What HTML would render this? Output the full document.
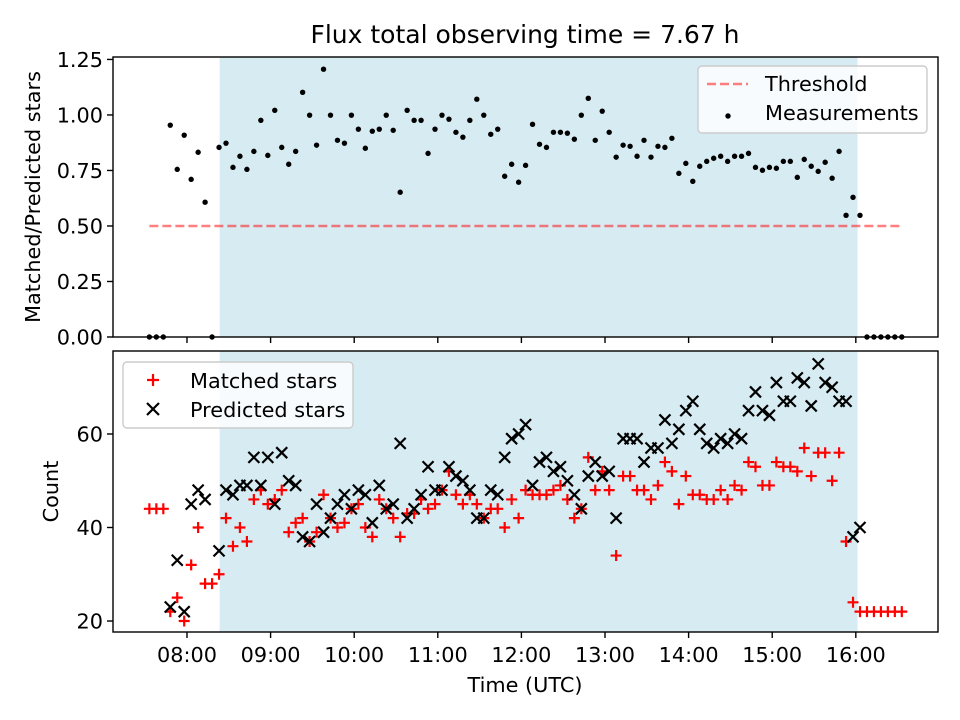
<!DOCTYPE html>
<html><head><meta charset="utf-8"><style>
body{margin:0;background:#fff;}
svg{display:block;font-family:"DejaVu Sans","Liberation Sans",sans-serif;}
</style></head><body>
<svg id="chart" width="960" height="720" viewBox="0 0 960 720"></svg>
<script>
// ---- data ----
const startHour = 7.55;            // first measurement (hours UTC)
const stepMinutes = 5;             // sampling interval
const ratio = [0,0,0,.954,.755,.909,.71,.832,.607,0,
.854,.873,.764,.814,.755,.836,.976,.818,1.021,.854,
.778,.836,1.102,.999,.864,1.206,.999,.886,.873,.999,
.936,.85,.927,.936,.999,.931,.652,1.021,.976,.976,
.827,.936,.999,.981,.922,.9,.976,1.071,.999,.913,
.936,.724,.778,.697,.773,.958,.868,.854,.922,.922,
.918,.891,.999,1.075,.886,1.017,.922,.81,.864,.859,
.814,.886,.81,.859,.854,.895,.737,.782,.701,.769,
.791,.805,.814,.791,.814,.814,.827,.764,.751,.764,
.76,.791,.791,.719,.8,.769,.746,.787,.715,.836,
.548,.629,.548,0,0,0,0,0,0];
const matched = [44,44,44,22,25,20,32,40,28,28,
30,42,36,40,37,46,48,45,46,48,
39,41,42,37,39,47,42,40,41,44,
45,40,38,46,44,42,38,43,43,46,
44,45,48,52,47,45,47,45,42,44,
44,40,46,42,48,47,47,47,48,49,
46,42,44,55,48,52,48,34,51,51,
48,48,46,49,54,52,45,51,47,47,
46,46,48,46,49,48,54,53,49,49,
54,53,53,52,57,51,56,56,50,56,
37,24,22,22,22,22,22,22,22];
const predicted = [null,null,null,23,33,22,45,48,46,null,
35,48,47,49,49,55,49,55,45,56,
50,49,38,37,45,39,42,45,47,44,
48,47,41,49,44,45,58,42,44,47,
53,48,48,53,51,50,48,42,42,48,
47,55,59,60,62,49,54,55,52,53,
50,47,44,51,54,51,52,42,59,59,
59,54,57,57,63,58,61,65,67,61,
58,57,59,58,60,59,65,69,65,64,
71,67,67,72,71,66,75,71,70,67,
67,38,40,null,null,null,null,null,null];
const threshold = 0.5;
const shadeStart = 8.39, shadeEnd = 16.02;
const xTickHours = [8,9,10,11,12,13,14,15,16];
const xTickLabels = ["08:00","09:00","10:00","11:00","12:00","13:00","14:00","15:00","16:00"];
const yTopTicks = [0,0.25,0.5,0.75,1.0,1.25];
const yTopLabels = ["0.00","0.25","0.50","0.75","1.00","1.25"];
const yBotTicks = [20,40,60];
const yBotLabels = ["20","40","60"];
const times = ratio.map((_, i) => startHour + i * stepMinutes / 60);

// ---- layout ----
const NS = "http://www.w3.org/2000/svg";
const svg = document.getElementById('chart');
const L = 113, R = 938;
const xMin = 7.115, xMax = 16.983;
const X = h => L + (h - xMin) / (xMax - xMin) * (R - L);
const topT = 57, topB = 337, yTMin = 0, yTMax = 1.261;
const YT = v => topB - (v - yTMin) / (yTMax - yTMin) * (topB - topT);
const botT = 351, botB = 632, yBMin = 17.65, yBMax = 77.75;
const YB = v => botB - (v - yBMin) / (yBMax - yBMin) * (botB - botT);
const FS = 20.8;

function mk(tag, attrs, parent) {
  const e = document.createElementNS(NS, tag);
  for (const k in attrs) e.setAttribute(k, attrs[k]);
  (parent || svg).appendChild(e);
  return e;
}
function txt(s, attrs, parent) { const t = mk('text', attrs, parent); t.textContent = s; return t; }

const title = txt("Flux total observing time = 7.67 h", {x: 525, y: 43, 'font-size': 25, 'text-anchor': 'middle', fill: '#000'});



function panel(name, T, B) {
  const g = mk('g', {});
  
  
  const sh = mk('rect', {x: X(shadeStart), y: T, width: X(shadeEnd) - X(shadeStart), height: B - T, fill: '#add8e6', 'fill-opacity': 0.5}, g);
  
  
  return g;
}
function frame(g, T, B) {
  const f = mk('rect', {x: L, y: T, width: R - L, height: B - T, fill: 'none', stroke: '#000', 'stroke-width': 1.4}, g);
  
  
}
function xTicks(g, B, labels) {
  xTickHours.forEach((h, i) => {
    mk('line', {x1: X(h), x2: X(h), y1: B, y2: B + 6, stroke: '#000', 'stroke-width': 1.4}, g);
    if (labels) {
      const t = txt(xTickLabels[i], {x: X(h), y: B + 30, 'font-size': FS, 'text-anchor': 'middle'}, g);
      
      
    }
  });
}
function yTicks(g, ticks, labels, Y) {
  ticks.forEach((v, i) => {
    mk('line', {x1: L - 6, x2: L, y1: Y(v), y2: Y(v), stroke: '#000', 'stroke-width': 1.4}, g);
    const t = txt(labels[i], {x: L - 10, y: Y(v) + 7.5, 'font-size': FS, 'text-anchor': 'end'}, g);
    
    
  });
}

// ---- top panel ----
const gt = panel('ratio-panel', topT, topB);
const th = mk('line', {x1: X(times[0]), x2: X(times[times.length - 1]), y1: YT(threshold), y2: YT(threshold), stroke: '#ff0000', 'stroke-opacity': 0.5, 'stroke-width': 2.5, 'stroke-dasharray': '9,4'}, gt);


ratio.forEach((v, i) => {
  const c = mk('circle', {cx: X(times[i]), cy: YT(v), r: 2.7, fill: '#000'}, gt);
  
  
});
frame(gt, topT, topB);
xTicks(gt, topB, false);
yTicks(gt, yTopTicks, yTopLabels, YT);
const ylt = txt("Matched/Predicted stars", {x: 0, y: 0, 'font-size': FS, 'text-anchor': 'middle', transform: `translate(40,${(topT + topB) / 2}) rotate(-90)`}, gt);



const lt = mk('g', {}, gt);


mk('rect', {x: 698, y: 66, width: 229, height: 67, rx: 4, fill: '#fff', 'fill-opacity': 0.8, stroke: '#ccc', 'stroke-width': 1.4}, lt);
mk('line', {x1: 707, x2: 748, y1: 84, y2: 84, stroke: '#ff0000', 'stroke-opacity': 0.5, 'stroke-width': 2.5, 'stroke-dasharray': '9,4'}, lt);
txt("Threshold", {x: 765, y: 91, 'font-size': FS}, lt);
mk('circle', {cx: 728, cy: 116, r: 2.7, fill: '#000'}, lt);
txt("Measurements", {x: 765, y: 120, 'font-size': FS}, lt);

// ---- bottom panel ----
const gb = panel('count-panel', botT, botB);
matched.forEach((v, i) => {
  const x = X(times[i]), y = YB(v), s = 5.5;
  const p = mk('path', {d: `M${x - s},${y}H${x + s}M${x},${y - s}V${y + s}`, stroke: '#ff0000', 'stroke-width': 2.2, fill: 'none'}, gb);
  
  
});
predicted.forEach((v, i) => {
  if (v === null) return;
  const x = X(times[i]), y = YB(v), s = 5.5;
  const p = mk('path', {d: `M${x - s},${y - s}L${x + s},${y + s}M${x - s},${y + s}L${x + s},${y - s}`, stroke: '#000', 'stroke-width': 2.2, fill: 'none'}, gb);
  
  
});
frame(gb, botT, botB);
xTicks(gb, botB, true);
yTicks(gb, yBotTicks, yBotLabels, YB);
const ylb = txt("Count", {x: 0, y: 0, 'font-size': FS, 'text-anchor': 'middle', transform: `translate(58,${(botT + botB) / 2}) rotate(-90)`}, gb);


const xl = txt("Time (UTC)", {x: 525, y: 692, 'font-size': FS, 'text-anchor': 'middle'}, gb);



const lb = mk('g', {}, gb);


mk('rect', {x: 123, y: 362, width: 230, height: 66, rx: 4, fill: '#fff', 'fill-opacity': 0.8, stroke: '#ccc', 'stroke-width': 1.4}, lb);
mk('path', {d: 'M147,380H159M153,374V386', stroke: '#ff0000', 'stroke-width': 2.2}, lb);
txt("Matched stars", {x: 190, y: 388, 'font-size': FS}, lb);
mk('path', {d: 'M147,403L159,415M147,415L159,403', stroke: '#000', 'stroke-width': 2.2}, lb);
txt("Predicted stars", {x: 190, y: 417, 'font-size': FS}, lb);
</script>
</body></html>
